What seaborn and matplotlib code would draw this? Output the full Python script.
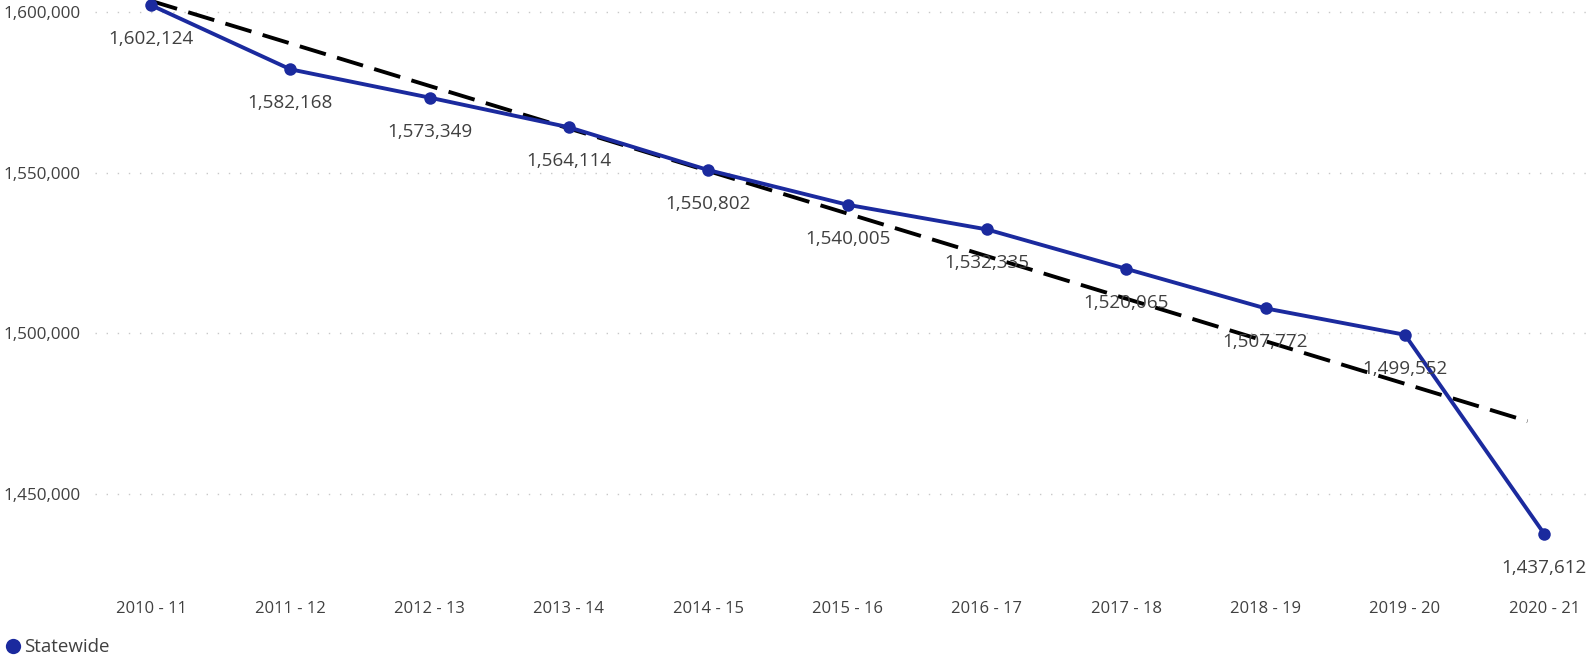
import numpy as np
import pandas as pd
import matplotlib
matplotlib.use("Agg")
import matplotlib.pyplot as plt
import seaborn as sns
from matplotlib.lines import Line2D
from matplotlib.ticker import FuncFormatter

# ---- data ----
years = ["2010 - 11", "2011 - 12", "2012 - 13", "2013 - 14", "2014 - 15", "2015 - 16",
         "2016 - 17", "2017 - 18", "2018 - 19", "2019 - 20", "2020 - 21"]
enrollment = [1602124, 1582168, 1573349, 1564114, 1550802, 1540005,
              1532335, 1520065, 1507772, 1499552, 1437612]
series_name = "Statewide"
y_ticks = [1450000, 1500000, 1550000, 1600000]

sns.set_theme(style="white")
plt.rcParams["font.family"] = ["Open Sans", "DejaVu Sans"]

BLUE = "#1b2a9e"
TXT = "#404040"

df = pd.DataFrame({"year": years, "value": enrollment})

fig = plt.figure(figsize=(15.86, 6.6), dpi=100)
ax = fig.add_axes([95 / 1586, 70 / 660, 1 - 95 / 1586, 590 / 660])

# gridlines
for t in y_ticks:
    ax.axhline(t, color="#c8c8c8", lw=1.0, ls=(0, (1, 7)), zorder=0)

sns.lineplot(data=df, x="year", y="value", ax=ax, color=BLUE, lw=2.8,
             marker="o", markersize=9, markeredgewidth=0, sort=False, zorder=3)

# trend line (least squares)
xi = np.arange(len(enrollment))
slope, intercept = np.polyfit(xi, enrollment, 1)
x_end = len(enrollment) - 1 - 0.12
ax.plot([0, x_end], [intercept, intercept + slope * x_end], color="black",
        lw=2.8, ls=(0, (7, 3)), zorder=2)

# data labels
for i, v in enumerate(enrollment):
    ax.annotate(f"{v:,}", (i, v), xytext=(0, -34), textcoords="offset pixels",
                ha="center", va="center", fontsize=13.6, color=TXT, zorder=4)

ax.set_xlim(-0.402, len(years) - 1 + 0.30)
ax.set_ylim(1420130, 1603730)
ax.set_yticks(y_ticks)
ax.yaxis.set_major_formatter(FuncFormatter(lambda v, p: f"{int(v):,}"))
ax.tick_params(axis="y", length=0, pad=10.5, labelsize=12.3, labelcolor=TXT)
ax.tick_params(axis="x", length=0, pad=8.0, labelsize=12.0, labelcolor=TXT)
ax.set_xlabel("")
ax.set_ylabel("")
for s in ax.spines.values():
    s.set_visible(False)
ax.grid(False)

handle = Line2D([], [], marker="o", color=BLUE, lw=0, markersize=11, markeredgewidth=0)
fig.legend([handle], [series_name], loc="lower left", bbox_to_anchor=(-0.007, -0.014),
           frameon=False, handletextpad=-0.05, handlelength=1.2, fontsize=13.5,
           labelcolor=TXT, borderpad=0.2)

fig.savefig("out.png", dpi=100)
